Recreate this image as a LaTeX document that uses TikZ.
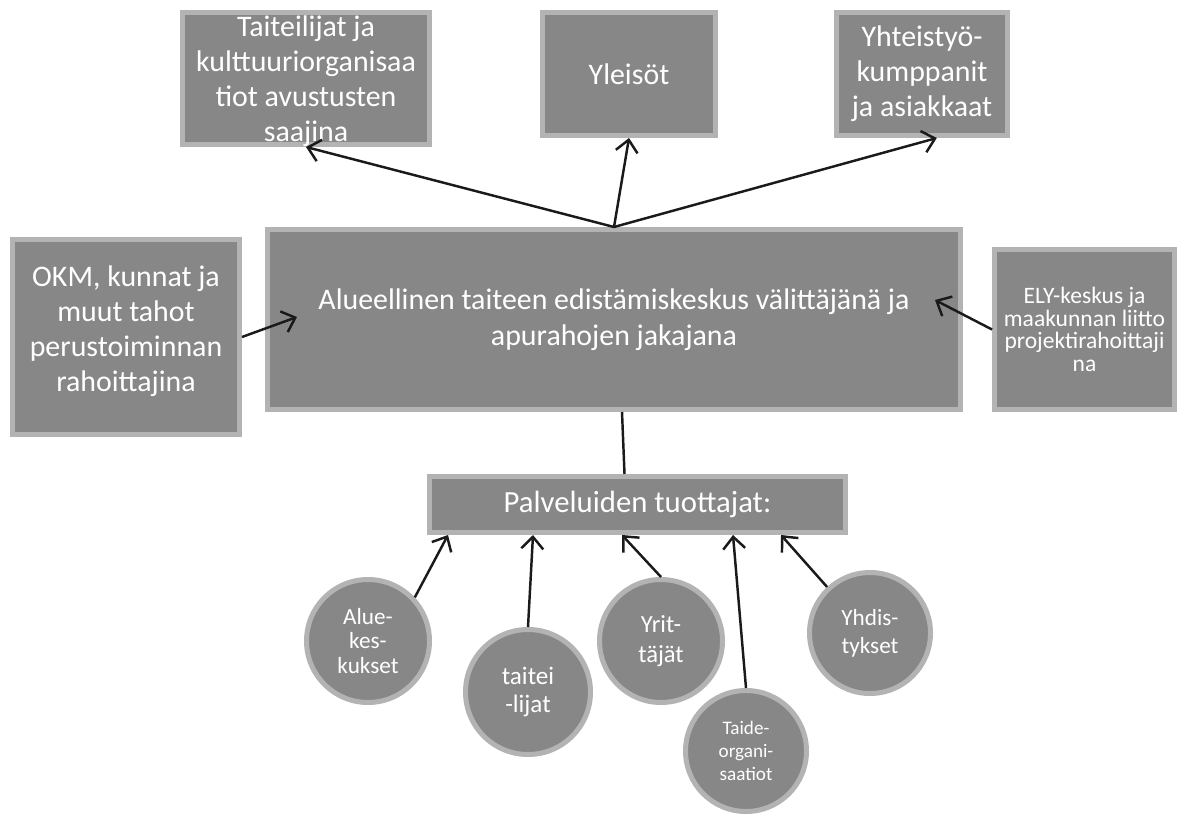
\documentclass[tikz,border=0pt]{standalone}
\usepackage{fontspec}
\setmainfont{Carlito}
\usetikzlibrary{arrows.meta}
\definecolor{boxfill}{HTML}{878787}
\definecolor{boxedge}{HTML}{B3B3B3}
\definecolor{linkcol}{HTML}{1A1A1A}
\begin{document}
\begin{tikzpicture}
    [box/.style = {rectangle, draw=boxedge, fill=boxfill,
                   line width=0.1cm, text=white, align=center, inner sep=0pt},
     ball/.style = {circle, draw=boxedge, fill=boxfill,
                    line width=0.1cm, text=white, align=center, inner sep=0pt},
     link/.style = {line width=1.4pt, draw=linkcol},
     tip/.style = {link, -{Straight Barb[length=0.24cm,width=0.44cm]}}]
    \useasboundingbox (0,0) rectangle (23.62,-16.34);
    % Ylarivi
    \node[box, minimum width=4.94cm, minimum height=2.64cm, text depth=0pt,
          font=\fontsize{17pt}{19.9pt}\selectfont] (art) at (6.12,-1.57)
        {Taiteilijat ja\\kulttuuriorganisaa\\tiot avustusten\\saajina};
    \node[box, minimum width=3.46cm, minimum height=2.46cm,
          font=\fontsize{17pt}{19.9pt}\selectfont] (yleiso) at (12.58,-1.48) {Yleisöt};
    \node[box, minimum width=3.42cm, minimum height=2.46cm,
          font=\fontsize{17pt}{19.9pt}\selectfont] (partner) at (18.44,-1.48)
        {Yhteistyö-\\kumppanit\\ja asiakkaat};
    % Keskirivi
    \node[box, minimum width=4.54cm, minimum height=3.9cm, text depth=0.34cm,
          font=\fontsize{17pt}{19.9pt}\selectfont] (okm) at (2.52,-6.74)
        {OKM, kunnat ja\\muut tahot\\perustoiminnan\\rahoittajina};
    \node[box, minimum width=13.86cm, minimum height=3.6cm,
          font=\fontsize{17pt}{20.5pt}\selectfont] (hub) at (12.28,-6.39)
        {Alueellinen taiteen edistämiskeskus välittäjänä ja\\apurahojen jakajana};
    \node[box, minimum width=3.6cm, minimum height=3.2cm,
          font=\fontsize{13.4pt}{12.8pt}\selectfont] (ely) at (21.69,-6.59)
        {ELY-keskus ja\\maakunnan liitto\\projektirahoittaji\\na};
    % Tuottajat
    \node[box, minimum width=8.32cm, minimum height=1.12cm,
          font=\fontsize{17.5pt}{20pt}\selectfont] (palv) at (12.75,-10.09)
        {Palveluiden tuottajat:};
    \node[ball, minimum size=2.46cm, font=\fontsize{13.2pt}{14pt}\selectfont]
        (alue) at (7.36,-12.82) {Alue-\\kes-\\kukset};
    \node[ball, minimum size=2.5cm, font=\fontsize{14.3pt}{16pt}\selectfont]
        (taitei) at (10.56,-13.84) {taitei\\-lijat};
    \node[ball, minimum size=2.46cm, font=\fontsize{14pt}{17pt}\selectfont]
        (yrit) at (13.22,-12.82) {Yrit-\\täjät};
    \node[ball, minimum size=2.42cm, font=\fontsize{10.9pt}{13pt}\selectfont]
        (taide) at (14.92,-15.02) {Taide-\\organi-\\saatiot};
    \node[ball, minimum size=2.42cm, font=\fontsize{13.2pt}{16pt}\selectfont]
        (yhdis) at (17.40,-12.66) {Yhdis-\\tykset};
    \coordinate (hubL) at (5.94,-6.34);
    \coordinate (hubR) at (18.70,-6.00);
    % Nuolet
    \draw[tip] (hub.north) -- (art.south);
    \draw[tip] (hub.north) -- (yleiso.south);
    \draw[tip] (hub.north) -- (partner.-77);
    \draw[tip] (okm.east) -- (hubL);
    \draw[tip] (ely.west) -- (hubR);
    \draw[link] ([xshift=0.16cm]hub.south) -- ([xshift=-0.26cm]palv.north);
    \draw[tip] (alue.43) -- ([xshift=-3.79cm]palv.south);
    \draw[tip] (taitei.north) -- ([xshift=-2.09cm]palv.south);
    \draw[tip] (yrit.north) -- ([xshift=-0.31cm]palv.south);
    \draw[tip] (taide.north) -- ([xshift=1.91cm]palv.south);
    \draw[tip] (yhdis.133) -- ([xshift=2.87cm]palv.south);
\end{tikzpicture}
\end{document}
